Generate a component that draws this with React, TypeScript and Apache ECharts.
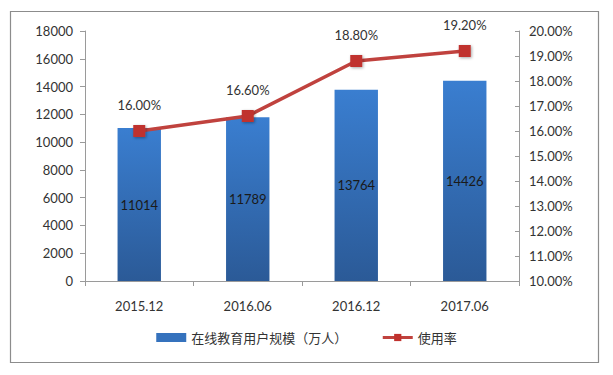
import React, { useEffect, useRef } from "react";
import * as echarts from "echarts";

const categories = ["2015.12", "2016.06", "2016.12", "2017.06"];
const users = [11014, 11789, 13764, 14426];
const rates = [16.0, 16.6, 18.8, 19.2];
const leftTicks = { min: 0, max: 18000, interval: 2000 };
const rightTicks = { min: 10, max: 20, interval: 1 };
const barName = "在线教育用户规模（万人）";
const lineName = "使用率";

const FONT = "Lato, 'Noto Sans CJK SC', sans-serif";

export default function App() {
  const ref = useRef<HTMLDivElement>(null);
  useEffect(() => {
    document.body.style.margin = "0";
    const chart = echarts.init(ref.current!, null, { renderer: "svg" });
    const axisColor = "#9a9a9a";
    chart.setOption({
      animation: false,
      backgroundColor: "#ffffff",
      textStyle: { fontFamily: FONT, color: "#333" },
      graphic: [
        {
          type: "rect",
          shape: { x: 10.5, y: 11.5, width: 588, height: 351 },
          style: { fill: "none", stroke: "#8c8c8c", lineWidth: 1.2 },
          silent: true,
        },
      ],
      grid: { left: 85, right: 94, top: 31, bottom: 94, containLabel: false },
      legend: {
        bottom: 26,
        left: "center",
        itemGap: 34,
        textStyle: { fontFamily: FONT, fontSize: 13, color: "#333" },
        data: [
          { name: barName, icon: "rect", itemStyle: { color: "#3572bd" } },
          { name: lineName, lineStyle: { width: 3, color: "#c0423e" }, itemStyle: { color: "#c0312d" } },
        ],
        itemWidth: 30,
        itemHeight: 9,
      },
      xAxis: {
        type: "category",
        data: categories,
        axisLine: { lineStyle: { color: axisColor } },
        axisTick: { show: true, length: 5, lineStyle: { color: axisColor } },
        axisLabel: { color: "#333", fontSize: 13, margin: 18, fontFamily: FONT },
      },
      yAxis: [
        {
          type: "value",
          min: leftTicks.min,
          max: leftTicks.max,
          interval: leftTicks.interval,
          axisLine: { show: true, lineStyle: { color: axisColor } },
          axisTick: { show: true, length: 5, lineStyle: { color: axisColor } },
          splitLine: { show: false },
          axisLabel: {
            color: "#333",
            fontSize: 13,
            margin: 12,
            fontFamily: FONT,
            formatter: (v: number) => String(v),
          },
        },
        {
          type: "value",
          position: "right",
          min: rightTicks.min,
          max: rightTicks.max,
          interval: rightTicks.interval,
          axisLine: { show: true, lineStyle: { color: axisColor } },
          axisTick: { show: true, inside: true, length: 4, lineStyle: { color: axisColor } },
          splitLine: { show: false },
          axisLabel: {
            color: "#333",
            fontSize: 13,
            margin: 10,
            fontFamily: FONT,
            formatter: (v: number) => v.toFixed(2) + "%",
          },
        },
      ],
      series: [
        {
          name: barName,
          type: "bar",
          data: users,
          barWidth: "40%",
          itemStyle: {
            color: new echarts.graphic.LinearGradient(0, 0, 0, 1, [
              { offset: 0, color: "#3a7ed0" },
              { offset: 1, color: "#2b5a97" },
            ]),
          },
          label: {
            show: true,
            position: "inside",
            color: "#1a1a1a",
            fontSize: 13,
            fontFamily: FONT,
          },
        },
        {
          name: lineName,
          type: "line",
          yAxisIndex: 1,
          data: rates,
          symbol: "rect",
          symbolSize: 12,
          lineStyle: { color: "#c0423e", width: 3.5 },
          itemStyle: {
            color: "#c0312d",
            shadowColor: "rgba(0,0,0,0.35)",
            shadowBlur: 3,
            shadowOffsetX: 1,
            shadowOffsetY: 1,
          },
          label: {
            show: true,
            position: "top",
            distance: 14,
            color: "#333",
            fontSize: 13,
            fontFamily: FONT,
            formatter: (p: any) => Number(p.value).toFixed(2) + "%",
          },
        },
      ],
    });
    return () => chart.dispose();
  }, []);
  return <div ref={ref} style={{ width: 613, height: 375 }} />;
}
